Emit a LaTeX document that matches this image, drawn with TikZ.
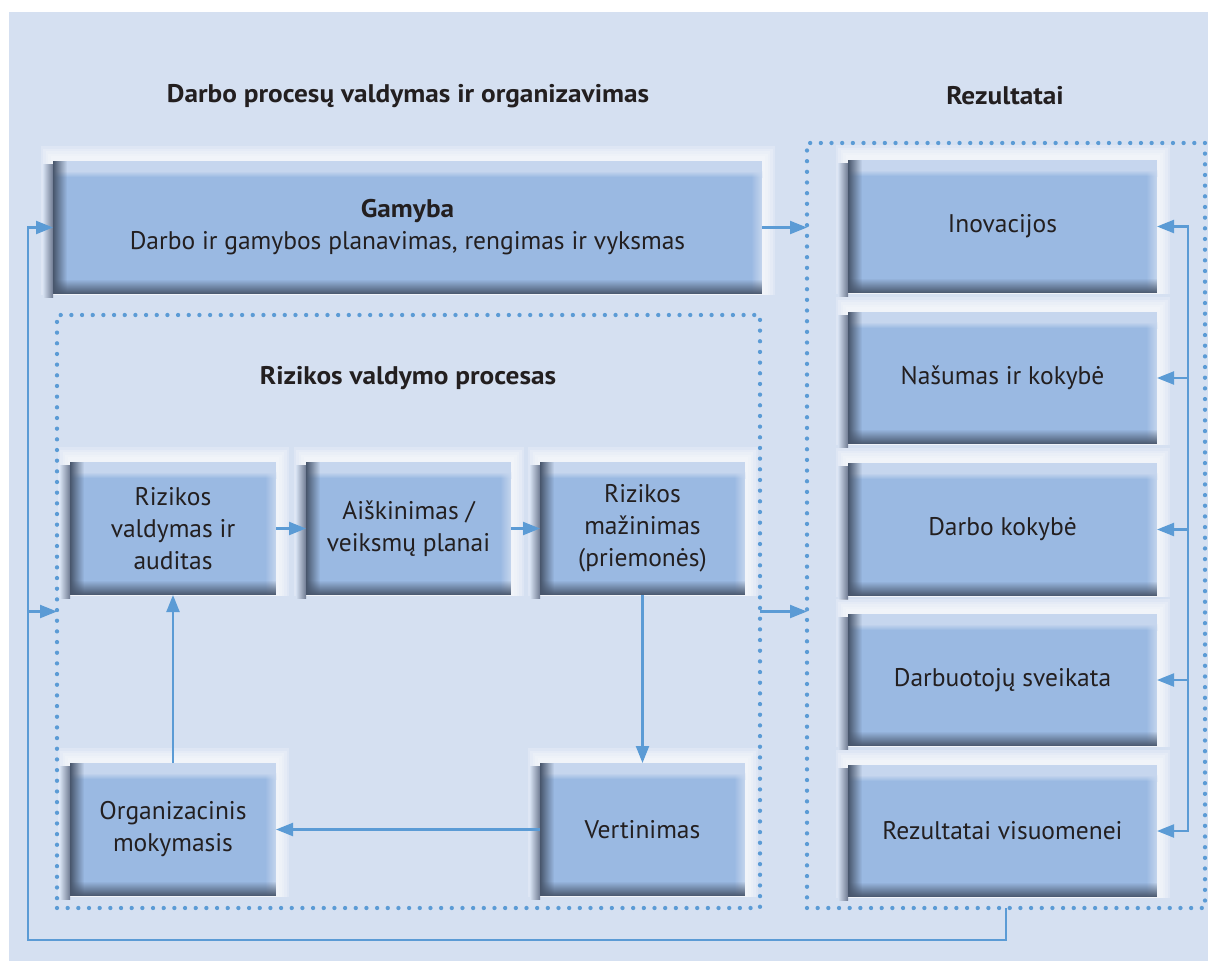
\documentclass[tikz,border=0pt]{standalone}
\usepackage{fontspec}
\setmainfont[BoldFeatures={FakeStretch=1.07}]{PT Sans}
\usetikzlibrary{arrows.meta,fadings}
\pgfdeclarelayer{bg}
\pgfsetlayers{bg,main}
\definecolor{panel}{RGB}{213,224,241}
\definecolor{boxc}{RGB}{154,185,226}
\definecolor{boxtop}{RGB}{198,214,238}
\definecolor{boxdark}{RGB}{72,86,108}
\definecolor{shadowc}{RGB}{110,122,145}
\definecolor{arr}{RGB}{91,155,213}
\definecolor{txt}{RGB}{35,31,32}
\tikzfading[name=fadeR, left color=transparent!0, right color=transparent!100]
\tikzfading[name=fadeL, left color=transparent!100, right color=transparent!0]
\tikzfading[name=fadeU, bottom color=transparent!0, top color=transparent!100]
\begin{document}
\begin{tikzpicture}[x=1pt,y=-1pt,
  bx/.style={rectangle, fill=boxc, inner sep=0pt, outer sep=0pt, align=center, text=txt,
    font=\fontsize{25.5}{32}\selectfont, minimum height=133pt,
    path picture={
      \fill[boxtop] (path picture bounding box.north west) rectangle ([yshift=-10pt]path picture bounding box.north east);
      \shade[top color=boxtop, bottom color=boxc] ([yshift=-10pt]path picture bounding box.north west) rectangle ([yshift=-16pt]path picture bounding box.north east);
      \fill[boxtop, path fading=fadeL] ([xshift=-11pt]path picture bounding box.north east) rectangle (path picture bounding box.south east);
      \fill[boxdark, path fading=fadeR] (path picture bounding box.north west) rectangle ([xshift=14pt]path picture bounding box.south west);
      \fill[boxdark, path fading=fadeU] (path picture bounding box.south west) rectangle ([yshift=15pt]path picture bounding box.south east);
    }},
  smallbx/.style={bx, minimum width=206pt},
  rbx/.style={bx, minimum width=309pt},
  dotbox/.style={draw=arr, line width=4.3pt, dash pattern=on 0pt off 10.67pt, line cap=round,
    outer sep=0pt, inner sep=0pt, rectangle},
  conn/.style={draw=arr, line width=2.2pt, -{Triangle[length=17pt,width=13pt]}},
  title/.style={font=\fontsize{25.5}{30}\selectfont\bfseries, text=txt}
]
\useasboundingbox (0,0) rectangle (1208,961);

% titles
\node[title] (t1) at (408,96) {Darbo procesų valdymas ir organizavimas};
\node[title] (t2) at (1005,96) {Rezultatai};

% containers
\node[dotbox, minimum width=703pt, minimum height=593pt] (inner) at (408.5,611.5) {};
\node[dotbox, minimum width=398pt, minimum height=765pt] (res) at (1006,525.5) {};
\node[title] (t3) at (408,378) {Rizikos valdymo procesas};

% boxes
\node[bx, minimum width=709pt] (gam) at (407.5,227.5) {\textbf{Gamyba}\\Darbo ir gamybos planavimas, rengimas ir vyksmas};
\node[smallbx] (rva) at (173,528.5) {Rizikos\\valdymas ir\\auditas};
\node[smallbx, minimum width=205pt] (ais) at (408.5,528.5) {Aiškinimas /\\veiksmų planai};
\node[smallbx, minimum width=205pt] (maz) at (642.5,528.5) {Rizikos\\mažinimas\\(priemonės)};
\node[smallbx] (org) at (173,829.5) {Organizacinis\\mokymasis};
\node[smallbx, minimum width=205pt] (ver) at (642.5,829.5) {Vertinimas};

\node[rbx] (ino) at (1002.5,226.5) {Inovacijos};
\node[rbx, minimum height=132pt] (nas) at (1002.5,378) {Našumas ir kokybė};
\node[rbx] (dko) at (1002.5,529.5) {Darbo kokybė};
\node[rbx, minimum height=132pt] (dsv) at (1002.5,680) {Darbuotojų sveikata};
\node[rbx, minimum height=132pt] (vis) at (1002.5,831) {Rezultatai visuomenei};

% connectors
\coordinate (fb) at (28,940);
\coordinate (rl) at (1188,0);
\draw[conn] (gam.east) -- (gam.east -| res.west);
\draw[conn] (inner.east) -- (inner.east -| res.west);
\draw[conn] (rva.east) -- (ais.west);
\draw[conn] (ais.east) -- (maz.west);
\draw[conn] (maz.south) -- (ver.north);
\draw[conn] (ver.west) -- (org.east);
\draw[conn] (org.north) -- (rva.south);
\draw[conn] (res.south) |- (fb) |- (gam.west);
\draw[conn] (fb |- inner.west) -- (inner.west);
\draw[conn] (rl |- vis.east) -- (rl |- ino.east) -- (ino.east);
\draw[conn] (rl |- ino.east) |- (vis.east);
\draw[conn] (rl |- nas.east) -- (nas.east);
\draw[conn] (rl |- dko.east) -- (dko.east);
\draw[conn] (rl |- dsv.east) -- (dsv.east);

% background, glows and shadows
\begin{pgfonlayer}{bg}
\fill[white] (0,0) rectangle (1208,961);
\fill[panel] (9,12) rectangle (1208,961);
\foreach \n in {gam,rva,ais,maz,org,ver,ino,nas,dko,dsv,vis}{
  \foreach \k in {0,...,4}{
    \fill[white, opacity=0.22] ([shift={({-12pt+2.4pt*\k},{-1pt})}]\n.south west) rectangle ([shift={({13pt-2.4pt*\k},{15pt-2.6pt*\k})}]\n.north east);
  }
  \shade[left color=panel, right color=shadowc] ([shift={(-10pt,-3pt)}]\n.south west) rectangle ([shift={(0pt,-3pt)}]\n.north west);
}
\end{pgfonlayer}
\end{tikzpicture}
\end{document}
